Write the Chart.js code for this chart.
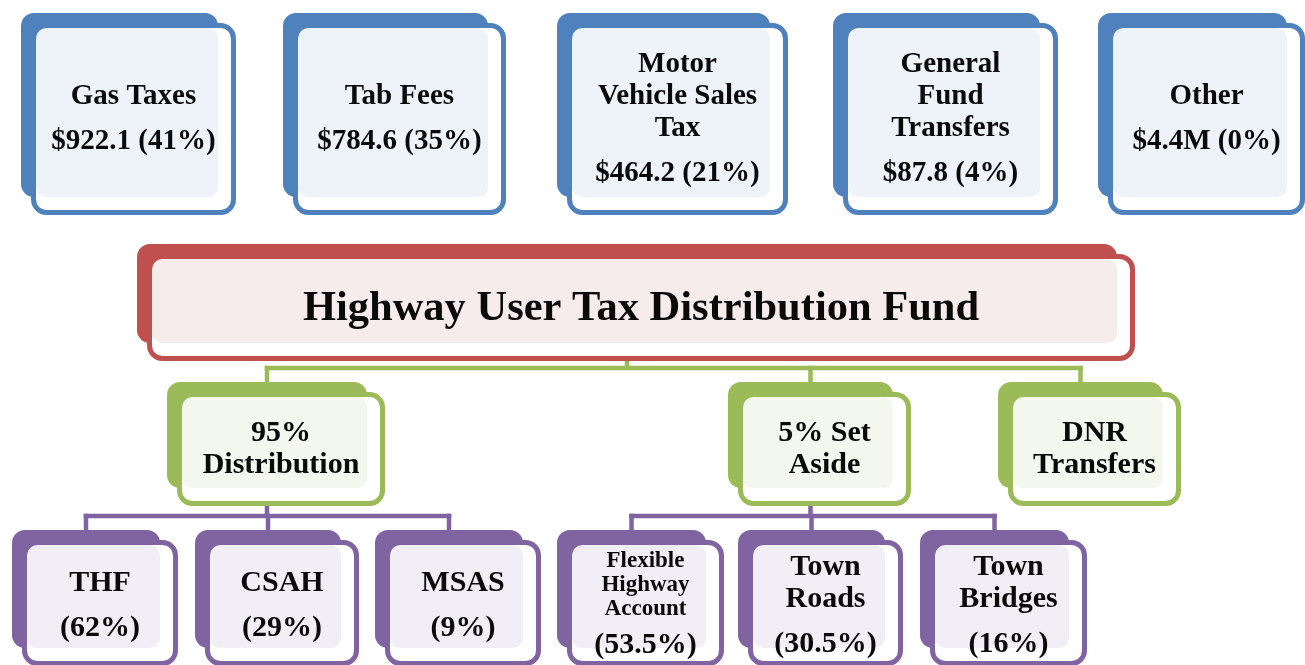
<!DOCTYPE html>
<html>
<head>
<meta charset="utf-8">
<script src="https://cdn.jsdelivr.net/npm/chart.js@4.4.1/dist/chart.umd.min.js"></script>
<style>
  html, body { margin: 0; padding: 0; background: #ffffff; overflow: hidden; }
  #wrap { position: relative; width: 1305px; height: 665px; }
</style>
</head>
<body>
<div id="wrap"><canvas id="chart"></canvas></div>
<script>
// ---------------- DATA ----------------
const sourceNames = [['Gas Taxes'], ['Tab Fees'], ['Motor', 'Vehicle Sales', 'Tax'], ['General', 'Fund', 'Transfers'], ['Other']];
const sourceAmounts = [922.1, 784.6, 464.2, 87.8, 4.4];
const sourceUnits = ['', '', '', '', 'M'];
const sourceShares = [41, 35, 21, 4, 0];

const fundName = ['Highway User Tax Distribution Fund'];

const splitNames = [['95%', 'Distribution'], ['5% Set', 'Aside'], ['DNR', 'Transfers']];

const distributionAccounts = [['THF'], ['CSAH'], ['MSAS']];
const distributionShares = [62, 29, 9];
const setAsideAccounts = [['Flexible', 'Highway', 'Account'], ['Town', 'Roads'], ['Town', 'Bridges']];
const setAsideShares = [53.5, 30.5, 16];

// ---------------- LAYOUT (diagram units on the chart's x / y scales) ----------------
const layout = {
  sources:  { y: [13, 197],  x: [[21, 218], [283, 488], [557, 770], [833, 1040], [1098, 1287]] },
  fund:     { y: [244, 343], x: [[137, 1117]] },
  splits:   { y: [382, 488], x: [[167, 367], [728, 893], [998, 1163]], bus: 368 },
  accounts: { y: [530, 648], x: [[12, 160], [195, 341], [375, 523], [557, 706], [738, 885], [920, 1069]], bus: 516 }
};
const FRONT_OFFSET = 10, FRONT_GROW = 8;

const FONT = '"Liberation Serif", "Times New Roman", serif';
const styles = {
  sources:  { color: '#4F81BD', tint: '#EEF2F9', size: 29, lineH: 32, valueSize: 29, valueGap: 45, shift: -2 },
  fund:     { color: '#C0504D', tint: '#F7ECEC', size: 42.5, lineH: 46, shift: -2 },
  splits:   { color: '#9BBB59', tint: '#F4F7EE', size: 30, lineH: 32, shift: -2 },
  accounts: { color: '#8064A2', tint: '#F1EFF5', size: 30, lineH: 32, valueSize: 30, valueGap: 45, shift: 1 },
  accountsSmall: { size: 23, lineH: 24, valueSize: 30, valueGap: 38, shift: -1 }
};

// ---------------- BUILD NODES ----------------
function fmtAmount(v, unit) { return '$' + v.toFixed(1) + unit; }
const nodes = { sources: [], fund: [], splits: [], accounts: [] };
sourceNames.forEach((n, i) => nodes.sources.push({ lines: n, value: fmtAmount(sourceAmounts[i], sourceUnits[i]) + ' (' + sourceShares[i] + '%)' }));
nodes.fund.push({ lines: fundName });
splitNames.forEach(n => nodes.splits.push({ lines: n }));
distributionAccounts.forEach((n, i) => nodes.accounts.push({ lines: n, value: '(' + distributionShares[i] + '%)' }));
setAsideAccounts.forEach((n, i) => nodes.accounts.push({ lines: n, value: '(' + setAsideShares[i] + '%)' }));

const links = [
  { from: ['fund', 0], to: [['splits', 0], ['splits', 1], ['splits', 2]], bus: layout.splits.bus, color: styles.splits.color },
  { from: ['splits', 0], to: [['accounts', 0], ['accounts', 1], ['accounts', 2]], bus: layout.accounts.bus, color: styles.accounts.color },
  { from: ['splits', 1], to: [['accounts', 3], ['accounts', 4], ['accounts', 5]], bus: layout.accounts.bus, color: styles.accounts.color }
];

// ---------------- DRAWING ----------------
function rrPath(ctx, x, y, w, h, r) {
  r = Math.min(r, w / 2, h / 2);
  ctx.beginPath();
  ctx.moveTo(x + r, y);
  ctx.arcTo(x + w, y, x + w, y + h, r);
  ctx.arcTo(x + w, y + h, x, y + h, r);
  ctx.arcTo(x, y + h, x, y, r);
  ctx.arcTo(x, y, x + w, y, r);
  ctx.closePath();
}

function boxOf(tier, i, X, Y) {
  const L = layout[tier];
  const [x0, x1] = L.x[i];
  const [y0, y1] = L.y;
  return {
    back: { x0: X(x0), x1: X(x1), y0: Y(y0), y1: Y(y1) },
    front: { x0: X(x0 + FRONT_OFFSET), x1: X(x1 + FRONT_OFFSET + FRONT_GROW), y0: Y(y0 + FRONT_OFFSET), y1: Y(y1 + FRONT_OFFSET + FRONT_GROW) },
    cx: X((x0 + x1) / 2)
  };
}

function drawNode(ctx, tier, i, node, X, Y) {
  const st = styles[tier];
  const b = boxOf(tier, i, X, Y);
  const B = b.back, F = b.front;
  const bw = 5;
  // back card
  ctx.fillStyle = st.color;
  rrPath(ctx, B.x0, B.y0, B.x1 - B.x0, B.y1 - B.y0, 13);
  ctx.fill();
  // front card interior
  ctx.fillStyle = '#ffffff';
  rrPath(ctx, F.x0 + bw - 0.5, F.y0 + bw - 0.5, F.x1 - F.x0 - 2 * bw + 1, F.y1 - F.y0 - 2 * bw + 1, 11);
  ctx.fill();
  // tint (overlap of back and front interiors)
  ctx.save();
  rrPath(ctx, F.x0 + bw, F.y0 + bw, F.x1 - F.x0 - 2 * bw, F.y1 - F.y0 - 2 * bw, 11);
  ctx.clip();
  ctx.fillStyle = st.tint;
  rrPath(ctx, F.x0 + bw, F.y0 + bw, B.x1 - F.x0 - bw, B.y1 - F.y0 - bw, 10);
  ctx.fill();
  ctx.restore();
  // front border
  ctx.strokeStyle = st.color;
  ctx.lineWidth = bw;
  rrPath(ctx, F.x0 + bw / 2, F.y0 + bw / 2, F.x1 - F.x0 - bw, F.y1 - F.y0 - bw, 13);
  ctx.stroke();

  // text
  let ts = st;
  if (tier === 'accounts' && node.lines.length > 2) ts = styles.accountsSmall;
  const items = node.lines.map((t, k) => ({ text: t, size: ts.size, gap: k === 0 ? 0 : ts.lineH }));
  if (node.value) items.push({ text: node.value, size: ts.valueSize, gap: ts.valueGap });
  let span = 0;
  items.forEach((it, k) => { if (k > 0) span += it.gap; });
  const cy = (F.y0 + F.y1) / 2;
  const cx = (F.x0 + F.x1) / 2;
  let base = cy - span / 2 + items[0].size * 0.66 / 2 + ts.shift;
  ctx.fillStyle = '#0a0a0a';
  ctx.textAlign = 'center';
  ctx.textBaseline = 'alphabetic';
  items.forEach((it, k) => {
    if (k > 0) base += it.gap;
    ctx.font = 'bold ' + it.size + 'px ' + FONT;
    ctx.fillText(it.text, cx, base);
  });
}

function drawLink(ctx, link, X, Y) {
  const p = boxOf(link.from[0], link.from[1], X, Y);
  const kids = link.to.map(([t, i]) => boxOf(t, i, X, Y));
  const busY = Y(link.bus);
  const xs = kids.map(k => k.cx).concat([p.cx]);
  ctx.strokeStyle = link.color;
  ctx.lineWidth = 4.5;
  ctx.lineCap = 'butt';
  ctx.lineJoin = 'miter';
  ctx.beginPath();
  ctx.moveTo(p.cx, p.back.y1);
  ctx.lineTo(p.cx, busY);
  ctx.stroke();
  ctx.beginPath();
  ctx.moveTo(Math.min(...xs) - 2.25, busY);
  ctx.lineTo(Math.max(...xs) + 2.25, busY);
  ctx.stroke();
  kids.forEach(k => {
    ctx.beginPath();
    ctx.moveTo(k.cx, busY - 2.25);
    ctx.lineTo(k.cx, k.back.y0 + 4);
    ctx.stroke();
  });
}

const diagramPlugin = {
  id: 'fundDiagram',
  afterDatasetsDraw(chart) {
    const ctx = chart.ctx;
    const X = v => chart.scales.x.getPixelForValue(v);
    const Y = v => chart.scales.y.getPixelForValue(v);
    ctx.save();
    links.forEach(l => drawLink(ctx, l, X, Y));
    ['sources', 'fund', 'splits', 'accounts'].forEach(tier => {
      nodes[tier].forEach((n, i) => drawNode(ctx, tier, i, n, X, Y));
    });
    ctx.restore();
  }
};

new Chart(document.getElementById('chart'), {
  type: 'scatter',
  data: { datasets: [] },
  options: {
    responsive: true,
    maintainAspectRatio: false,
    animation: false,
    events: [],
    layout: { padding: 0 },
    plugins: { legend: { display: false }, tooltip: { enabled: false }, title: { display: false } },
    scales: {
      x: { type: 'linear', min: 0, max: 1305, display: false },
      y: { type: 'linear', min: 0, max: 665, reverse: true, display: false }
    }
  },
  plugins: [diagramPlugin]
});
</script>
</body>
</html>
